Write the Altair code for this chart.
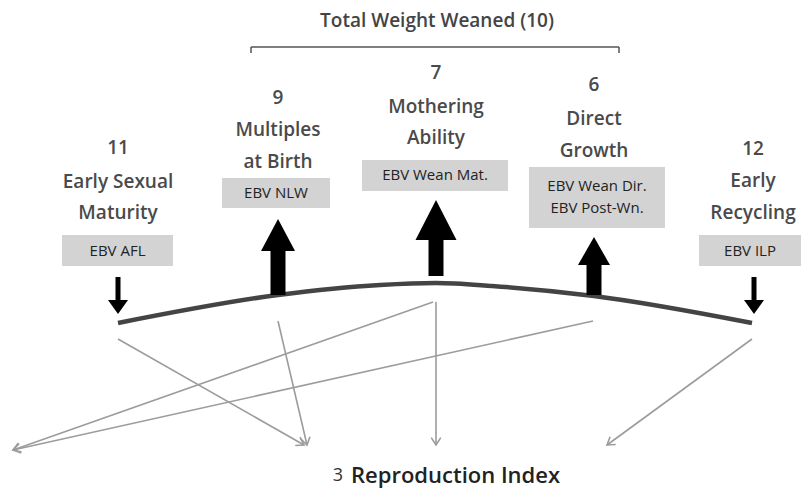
import altair as alt
import pandas as pd
import numpy as np

# ---- content ----
title_text = "Total Weight Weaned (10)"
col_x = [118, 278, 436, 594, 753]
numbers = ["11", "9", "7", "6", "12"]
number_y = [148, 98, 73, 85, 149]
label_lines = [["Early Sexual", "Maturity"], ["Multiples", "at Birth"],
               ["Mothering", "Ability"], ["Direct", "Growth"], ["Early", "Recycling"]]
label_y = [[182, 213], [130, 162], [107, 138], [119, 151], [181, 213]]

box_x1 = [62, 222, 362, 529, 699]
box_x2 = [173, 330, 508, 665, 801]
box_y1 = [235, 178, 160, 167, 235]
box_y2 = [266, 208, 191, 228, 266]
box_lines = [["EBV  AFL"], ["EBV  NLW"], ["EBV  Wean  Mat."], ["EBV Wean Dir.", "EBV Post-Wn."], ["EBV  ILP"]]
box_line_y = [[251], [193], [175], [186, 208], [251]]

bracket_x = [251, 619]
bracket_y = [47, 53]

# up arrows (cols 2-4)
up_x = [278, 436, 594]
up_tip = [219, 200, 237]
up_base = [251, 240, 265]
up_bottom = [295, 276, 295]
up_width = [34, 41, 32]
# down arrows (cols 1, 5)
down_x = [118, 754]
down_top = [277, 277]
down_base = [300, 300]
down_tip = [314, 314]

# curve
curve_x = [118, 278, 380, 436, 492, 594, 752]
curve_y = [323, 295, 285, 283, 286, 296, 323]

# gray arrows: start -> end
g_x1 = [118, 278, 436, 433, 593, 752]
g_y1 = [339, 321, 302, 302, 321, 339]
g_x2 = [304, 307, 436, 13, 13, 607]
g_y2 = [445, 445, 445, 450, 450, 445]

# ---- scales mapped to page pixels ----
X = alt.Scale(domain=[8, 801], nice=False, zero=False)
Y = alt.Scale(domain=[489, 8], nice=False, zero=False)
FONT = "Open Sans"

def xq(f): return alt.X(f, type="quantitative", scale=X, axis=None)
def yq(f): return alt.Y(f, type="quantitative", scale=Y, axis=None)

layers = []

# title
t_df = pd.DataFrame({"x": [437], "y": [21], "t": [title_text]})
layers.append(alt.Chart(t_df).mark_text(font=FONT, fontSize=19, fontWeight=600, color="#444")
              .encode(x=xq("x"), y=yq("y"), text="t:N"))

# bracket
b_df = pd.DataFrame({"x": [bracket_x[0]], "x2": [bracket_x[1]], "y": [bracket_y[0]]})
layers.append(alt.Chart(b_df).mark_rule(color="#555", strokeWidth=1.5)
              .encode(x=xq("x"), x2="x2", y=yq("y")))
bt_df = pd.DataFrame({"x": bracket_x, "y": [bracket_y[0]] * 2, "y2": [bracket_y[1]] * 2})
layers.append(alt.Chart(bt_df).mark_rule(color="#555", strokeWidth=1.5)
              .encode(x=xq("x"), y=yq("y"), y2="y2"))

# numbers and labels
rows = []
for i in range(5):
    rows.append({"x": col_x[i], "y": number_y[i], "t": numbers[i]})
    for ln, yy in zip(label_lines[i], label_y[i]):
        rows.append({"x": col_x[i], "y": yy, "t": ln})
l_df = pd.DataFrame(rows)
layers.append(alt.Chart(l_df).mark_text(font=FONT, fontSize=19, fontWeight=600, color="#4a4a4a")
              .encode(x=xq("x"), y=yq("y"), text="t:N"))

# boxes
bx_df = pd.DataFrame({"x": box_x1, "x2": box_x2, "y": box_y1, "y2": box_y2})
layers.append(alt.Chart(bx_df).mark_rect(color="#d3d3d3")
              .encode(x=xq("x"), x2="x2", y=yq("y"), y2="y2"))
rows = []
for i in range(5):
    cx = (box_x1[i] + box_x2[i]) / 2
    for ln, yy in zip(box_lines[i], box_line_y[i]):
        rows.append({"x": cx, "y": yy, "t": ln})
bt = pd.DataFrame(rows)
layers.append(alt.Chart(bt).mark_text(font=FONT, fontSize=15, color="#222")
              .encode(x=xq("x"), y=yq("y"), text="t:N"))

# gray arrows
g_df = pd.DataFrame({"x": g_x1, "y": g_y1, "x2": g_x2, "y2": g_y2})
layers.append(alt.Chart(g_df).mark_rule(color="#9c9c9c", strokeWidth=1.6)
              .encode(x=xq("x"), y=yq("y"), x2="x2", y2="y2"))
ang = (np.degrees(np.arctan2(np.array(g_x2) - np.array(g_x1),
                             -(np.array(g_y2) - np.array(g_y1)))) + 360) % 360
gh_df = pd.DataFrame({"x": g_x2, "y": g_y2, "a": ang})
layers.append(alt.Chart(gh_df).mark_point(shape="M-0.55,0.85L0,0L0.55,0.85", size=300,
                                          filled=False, color="#9c9c9c", strokeWidth=1.6, opacity=1)
              .encode(x=xq("x"), y=yq("y"), angle=alt.Angle("a:Q", scale=None)))

# curve
c_df = pd.DataFrame({"x": curve_x, "y": curve_y})
layers.append(alt.Chart(c_df).mark_line(color="#444", strokeWidth=4.5, interpolate="monotone")
              .encode(x=xq("x"), y=yq("y")))

# up arrows
us_df = pd.DataFrame({"x": up_x, "y": up_base, "y2": up_bottom})
layers.append(alt.Chart(us_df).mark_rule(color="#000", strokeWidth=15)
              .encode(x=xq("x"), y=yq("y"), y2="y2"))
for i in range(3):
    h_df = pd.DataFrame({"x": [up_x[i]], "y": [(up_tip[i] + up_base[i]) / 2]})
    hgt = (up_base[i] - up_tip[i]) / up_width[i]
    path = f"M-1,{hgt:.3f}L0,{-hgt:.3f}L1,{hgt:.3f}Z"
    layers.append(alt.Chart(h_df).mark_point(shape=path, size=up_width[i] ** 2, filled=True,
                                             color="#000", opacity=1, strokeWidth=0)
                  .encode(x=xq("x"), y=yq("y")))

# down arrows
ds_df = pd.DataFrame({"x": down_x, "y": down_top, "y2": [b + 2 for b in down_base]})
layers.append(alt.Chart(ds_df).mark_rule(color="#000", strokeWidth=5)
              .encode(x=xq("x"), y=yq("y"), y2="y2"))
dh_df = pd.DataFrame({"x": down_x, "y": [(a + b) / 2 for a, b in zip(down_base, down_tip)]})
dh = (down_tip[0] - down_base[0]) / 20
layers.append(alt.Chart(dh_df).mark_point(shape=f"M-1,{-dh:.3f}L0,{dh:.3f}L1,{-dh:.3f}Z", size=400,
                                          filled=True, color="#000", opacity=1, strokeWidth=0)
              .encode(x=xq("x"), y=yq("y")))

# bottom title
r1 = pd.DataFrame({"x": [343], "y": [476], "t": ["3"]})
layers.append(alt.Chart(r1).mark_text(font=FONT, fontSize=18, color="#333", align="right")
              .encode(x=xq("x"), y=yq("y"), text="t:N"))
r2 = pd.DataFrame({"x": [351], "y": [476], "t": ["Reproduction Index"]})
layers.append(alt.Chart(r2).mark_text(font=FONT, fontSize=22, fontWeight=600, color="#222", align="left")
              .encode(x=xq("x"), y=yq("y"), text="t:N"))

chart = alt.layer(*layers).properties(
    width=793, height=481, autosize=alt.AutoSizeParams(type="none"), padding=0
).configure_view(stroke="transparent", strokeWidth=0)

chart.save("out.html", embed_options={"renderer": "svg", "actions": False})
